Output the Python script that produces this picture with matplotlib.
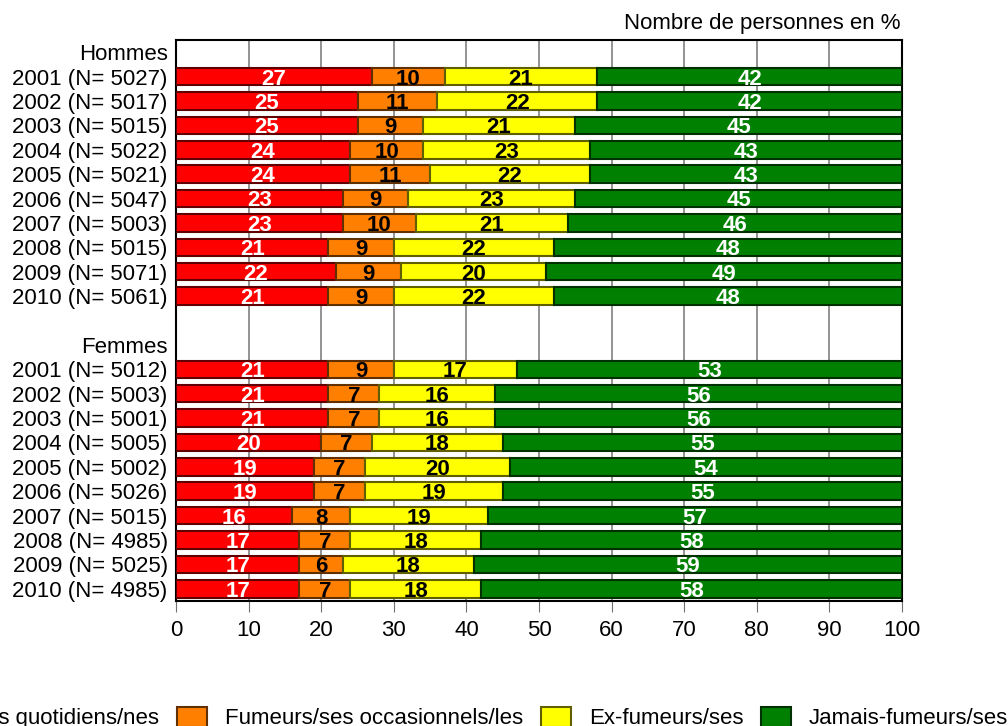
import numpy as np
import matplotlib
matplotlib.use("Agg")
import matplotlib.pyplot as plt
from matplotlib.patches import Patch

plt.rcParams['font.family'] = ['Liberation Sans', 'DejaVu Sans']

''' Data '''
years = [2001, 2002, 2003, 2004, 2005, 2006, 2007, 2008, 2009, 2010]
n_hommes = [5027, 5017, 5015, 5022, 5021, 5047, 5003, 5015, 5071, 5061]
n_femmes = [5012, 5003, 5001, 5005, 5002, 5026, 5015, 4985, 5025, 4985]

quot_h = [27, 25, 25, 24, 24, 23, 23, 21, 22, 21]
occ_h = [10, 11, 9, 10, 11, 9, 10, 9, 9, 9]
ex_h = [21, 22, 21, 23, 22, 23, 21, 22, 20, 22]
jam_h = [42, 42, 45, 43, 43, 45, 46, 48, 49, 48]

quot_f = [21, 21, 21, 20, 19, 19, 16, 17, 17, 17]
occ_f = [9, 7, 7, 7, 7, 7, 8, 7, 6, 7]
ex_f = [17, 16, 16, 18, 20, 19, 19, 18, 18, 18]
jam_f = [53, 56, 56, 55, 54, 55, 57, 58, 59, 58]

categories = ["Fumeurs/ses quotidiens/nes", "Fumeurs/ses occasionnels/les",
              "Ex-fumeurs/ses", "Jamais-fumeurs/ses"]
colors = ["#ff0000", "#ff8000", "#ffff00", "#008000"]
edges = ["#600000", "#603000", "#606000", "#003000"]
txtcol = ["white", "black", "black", "white"]

''' Layout of rows: header, 10 years, blank, header, 10 years '''
pos_h = np.arange(1, 11)
pos_f = np.arange(13, 23)
series_h = [quot_h, occ_h, ex_h, jam_h]
series_f = [quot_f, occ_f, ex_f, jam_f]

fig = plt.figure(figsize=(10.08, 7.26), dpi=100)
ax = fig.add_axes([176/1008, 1-601/726, 726/1008, 561/726])

for pos, series in [(pos_h, series_h), (pos_f, series_f)]:
    left = np.zeros(len(pos))
    for i, vals in enumerate(series):
        vals = np.array(vals)
        ax.barh(pos, vals, left=left, height=0.72, color=colors[i],
                edgecolor=edges[i], linewidth=1.5, zorder=3)
        for y, l, v in zip(pos, left, vals):
            ax.text(l + v/2, y + 0.1, str(v), ha="center", va="center",
                    fontsize=16, fontweight="bold", color=txtcol[i], zorder=4)
        left = left + vals

ticks = [0] + list(pos_h) + [12] + list(pos_f)
labels = ["Hommes"] + ["%d (N= %d)" % (y, n) for y, n in zip(years, n_hommes)] \
    + ["Femmes"] + ["%d (N= %d)" % (y, n) for y, n in zip(years, n_femmes)]
ax.set_yticks(ticks)
ax.set_yticklabels(labels, fontsize=16)
ax.tick_params(axis="y", length=0, pad=6)
ax.set_ylim(22.5, -0.5)

ax.set_xlim(0, 100)
ax.set_xticks(range(0, 101, 10))
ax.tick_params(axis="x", labelsize=16, length=8, color="#707070", pad=6)
ax.grid(axis="x", color="#808080", linewidth=1.2, zorder=0)
for s in ax.spines.values():
    s.set_linewidth(1.5)
    s.set_color("black")

fig.text(900/1008, 1-23/726, "Nombre de personnes en %", ha="right",
         va="center", fontsize=16)

handles = [Patch(facecolor=c, edgecolor=e, linewidth=1.5) for c, e in zip(colors, edges)]
fig.legend(handles, categories, loc="center right", bbox_to_anchor=(1.0, 8/726),
           ncol=4, frameon=False, fontsize=16, handlelength=1.35,
           handleheight=1.0, handletextpad=0.8, columnspacing=0.8,
           borderaxespad=0, borderpad=0)

plt.savefig("out.png", dpi=100)
